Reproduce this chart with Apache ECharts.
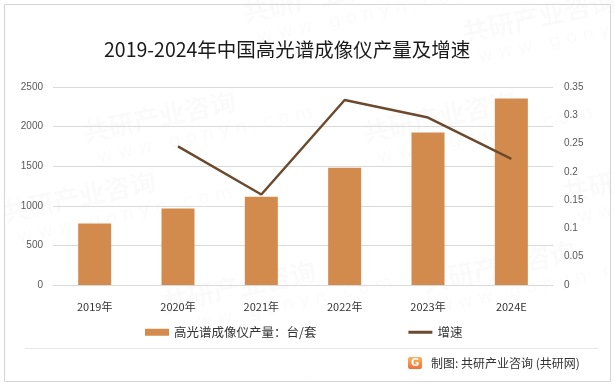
<!DOCTYPE html>
<html>
<head>
<meta charset="utf-8">
<script src="https://cdn.jsdelivr.net/npm/echarts@6/dist/echarts.min.js"></script>
<style>
html,body{margin:0;padding:0;background:#fff;}
#c{width:615px;height:386px;}
</style>
</head>
<body>
<div id="c"></div>
<script>
var categories = ['2019年', '2020年', '2021年', '2022年', '2023年', '2024E'];
var outputValues = [775, 965, 1115, 1480, 1925, 2355];
var growthValues = [null, 0.245, 0.16, 0.327, 0.296, 0.223];
var leftTicks = [0, 500, 1000, 1500, 2000, 2500];
var rightTicks = [0, 0.05, 0.1, 0.15, 0.2, 0.25, 0.3, 0.35];
var barName = '高光谱成像仪产量：台/套';
var lineName = '增速';
var titleText = '2019-2024年中国高光谱成像仪产量及增速';
var footerText = '制图: 共研产业咨询 (共研网)';

var chart = echarts.init(document.getElementById('c'), null, {renderer: 'canvas'});

var wmColor = 'rgba(0,0,0,0.02)';
function wm(x, y) {
  return {
    type: 'group', x: x, y: y, rotation: 12 * Math.PI / 180, silent: true, z: 0,
    children: [
      {type: 'text', style: {text: '共研产业咨询', x: 0, y: 0, fill: wmColor, font: 'bold 26px "Noto Sans CJK SC"'}},
      {type: 'text', style: {text: 'w w w . g o n y n . c o m', x: 10, y: 32, fill: wmColor, font: '18px "DejaVu Sans"'}}
    ]
  };
}

var option = {
  backgroundColor: '#ffffff',
  animation: false,
  title: {
    text: titleText,
    left: 99,
    top: 35,
    textStyle: {fontFamily: '"Noto Sans CJK SC"', fontSize: 19.5, fontWeight: 'normal', color: '#1a1a1a'}
  },
  grid: {left: 53, right: 62, top: 87, bottom: 101},
  legend: {
    left: 140,
    top: 321,
    itemGap: 92,
    itemWidth: 24,
    itemHeight: 7,
    textStyle: {fontFamily: '"Noto Sans CJK SC"', fontSize: 12.5, color: '#333'},
    data: [
      {name: barName, icon: 'rect'},
      {name: lineName, icon: 'path://M0,0 H24 V3 H0 Z', itemStyle: {color: '#6B4A2E'}}
    ]
  },
  xAxis: {
    type: 'category',
    data: categories,
    axisLine: {show: true, lineStyle: {color: '#d9d9d9'}},
    axisTick: {show: false},
    axisLabel: {
      margin: 16,
      fontFamily: '"Noto Sans CJK SC"',
      fontSize: 11,
      color: '#333',
      formatter: function (v) { return v === '2024E' ? '{e|' + v + '}' : v; },
      rich: {e: {fontFamily: '"Noto Sans CJK SC"', fontSize: 11, color: '#333', padding: [0, 0, 9, 0]}}
    }
  },
  yAxis: [
    {
      type: 'value', min: leftTicks[0], max: leftTicks[leftTicks.length - 1], interval: 500,
      axisLine: {show: false}, axisTick: {show: false},
      splitLine: {lineStyle: {color: '#d9d9d9', width: 1}},
      axisLabel: {margin: 10, fontFamily: '"Liberation Sans"', fontSize: 10, color: '#595959',
        formatter: function (v) { return String(v); }}
    },
    {
      type: 'value', min: rightTicks[0], max: rightTicks[rightTicks.length - 1], interval: 0.05,
      axisLine: {show: false}, axisTick: {show: false},
      splitLine: {show: false},
      axisLabel: {margin: 11, fontFamily: '"Liberation Sans"', fontSize: 10, color: '#595959',
        formatter: function (v) { return String(Math.round(v * 100) / 100); }}
    }
  ],
  series: [
    {
      name: barName, type: 'bar', data: outputValues, yAxisIndex: 0,
      barWidth: 33,
      itemStyle: {color: '#D38B4D'},
      z: 2
    },
    {
      name: lineName, type: 'line', data: growthValues, yAxisIndex: 1,
      symbol: 'none', connectNulls: false,
      lineStyle: {color: '#6B4A2E', width: 2.5},
      itemStyle: {color: '#6B4A2E'},
      z: 3
    }
  ],
  graphic: [
    wm(0, 200), wm(80, 120), wm(240, 0), wm(360, 120), wm(460, 20), wm(160, 290), wm(420, 270), wm(560, 180),
    {type: 'rect', shape: {x: 4.5, y: 4.5, width: 606, height: 377}, style: {fill: 'none', stroke: '#d4d4d4', lineWidth: 1}, silent: true, z: 10},
    {type: 'line', shape: {x1: 25, y1: 348.5, x2: 598, y2: 348.5}, style: {stroke: '#e6e6e6', lineWidth: 1}, silent: true, z: 10},
    {type: 'rect', shape: {x: 408, y: 357, width: 14, height: 12, r: 2},
      style: {fill: new echarts.graphic.LinearGradient(0, 0, 0, 1, [{offset: 0, color: '#f9b35a'}, {offset: 1, color: '#f0703a'}])}, z: 10},
    {type: 'text', style: {text: 'G', x: 415, y: 363, align: 'center', verticalAlign: 'middle', fill: '#fff', font: 'bold 10px "DejaVu Sans"'}, z: 11},
    {type: 'text', style: {text: footerText, x: 431, y: 363, verticalAlign: 'middle', fill: '#333', font: '12px "Noto Sans CJK SC"'}, z: 10}
  ]
};
chart.setOption(option);
</script>
</body>
</html>
